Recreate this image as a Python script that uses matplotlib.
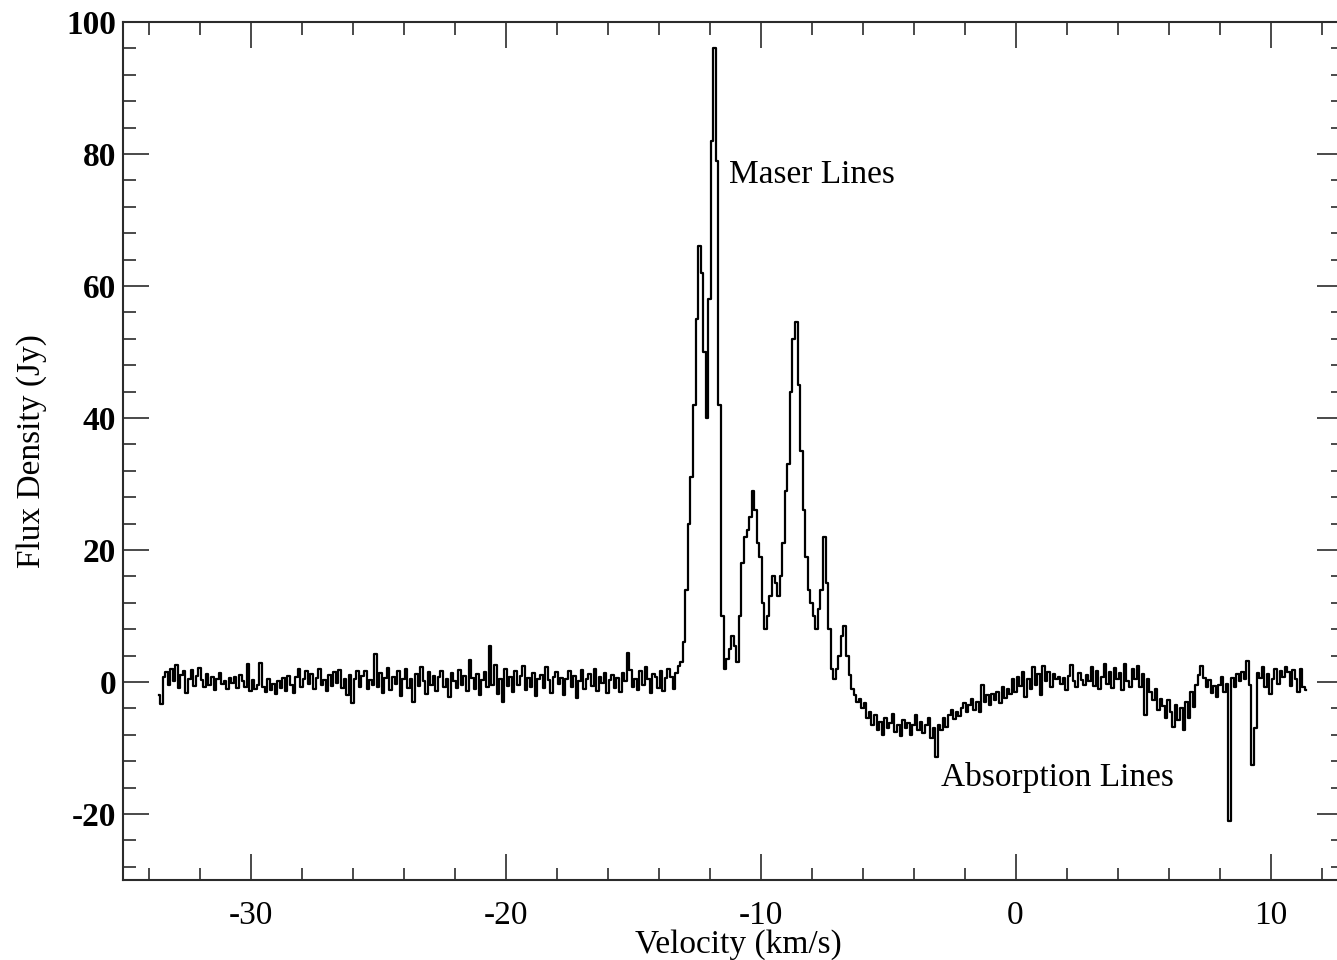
import numpy as np
import matplotlib
matplotlib.use("Agg")
import matplotlib.pyplot as plt
from matplotlib.ticker import MultipleLocator

plt.rcParams['font.family'] = ['Liberation Serif', 'DejaVu Serif']
plt.rcParams['axes.unicode_minus'] = False

# spectrum channels: 0.1 km/s from -33.6 to 11.4
V_START = -33.6
V_STEP = 0.1

# quiet baseline, -33.6 .. -13.3
flux_baseline = [
    -2.0, -3.3, 0.8, 1.5, -0.5, 1.9, 0.2, 2.6, -0.9, 1.0,
    1.6, -1.7, 0.4, 1.8, -0.6, 0.9, 2.1, 0.3, -0.8, 1.2,
    -0.4, 0.7, -1.2, 0.5, 1.3, -0.3, 0.1, -1.0, 0.6, -0.2,
    0.8, -0.9, 1.1, 0.2, -0.7, 2.8, -1.4, 0.3, -1.1, -0.5,
    2.9, -0.8, -1.5, 0.4, -1.2, -0.3, -1.8, 0.2, -0.9, 0.6,
    -1.4, 0.9, -0.5, -1.6, 0.8, 1.9, -0.7, 0.4, 1.7, -0.3,
    1.2, -1.1, 0.6, 2.0, -0.4, 0.3, -1.3, 1.0, -0.6, 1.5,
    -0.2, 1.8, -0.9, 0.5, -2.0, 1.1, -3.2, 0.4, 1.6, -0.8,
    0.9, 1.7, -1.0, 0.3, -0.5, 4.2, -0.7, 1.4, -1.6, 0.6,
    2.1, -1.2, 0.8, -0.3, 1.6, -2.1, 0.5, 1.9, -0.9, 0.4,
    -3.0, 1.2, -0.6, 2.3, 0.1, -1.8, 1.5, -0.4, 0.9, -1.3,
    0.7, 1.6, -0.8, 0.4, -2.2, 1.3, 0.2, -0.9, 1.8, -0.5,
    0.9, -1.4, 3.4, 0.6, -1.1, 1.2, -2.0, 0.3, 1.5, -0.7,
    5.4, -0.5, 2.6, -1.8, 0.4, -3.0, 1.9, -0.6, 0.8, -1.5,
    1.7, -0.4, 0.9, 2.4, -1.2, 0.6, -0.8, 1.3, -2.1, 0.5,
    1.1, -0.9, 2.2, 0.3, -1.6, 0.8, 1.5, -0.3, 0.6, -1.9,
    0.4, 1.6, -0.7, 0.9, -2.4, 0.2, 1.8, -1.0, 0.5, 1.2,
    -0.6, 2.0, -1.3, 0.7, -0.2, 1.4, -1.7, 0.3, 1.1, -0.9,
    0.6, -1.5, 1.3, 0.2, 4.4, 1.8, -0.8, 0.5, -1.2, 1.6,
    -0.5, 2.3, 0.4, -1.6, 1.2, 0.8, -0.9, 1.7, -1.4, 0.6,
    1.9, 0.8, -1.1, 1.4,
]

# maser emission, -13.2 .. -6.2
flux_maser = [
    2.5, 3.0, 6.0, 14.0, 24.0, 31.0, 42.0, 55.0, 66.0, 62.0,
    50.0, 40.0, 58.0, 82.0, 96.0, 79.0, 42.0, 10.0, 2.0, 3.5,
    5.0, 7.0, 5.5, 3.0, 10.0, 18.0, 22.0, 23.0, 25.0, 29.0,
    26.0, 21.0, 19.0, 12.0, 8.0, 10.0, 13.0, 16.0, 15.0, 13.0,
    16.0, 21.0, 29.0, 33.0, 44.0, 52.0, 54.5, 45.0, 35.0, 26.0,
    19.0, 14.0, 12.0, 10.0, 8.0, 11.0, 14.0, 22.0, 15.0, 8.0,
    2.0, 0.5, 2.0, 4.0, 7.0, 8.5, 4.0, 1.0, -1.0, -2.0,
    -3.0,
]

# absorption trough and narrow absorption lines, -6.1 .. 11.4
flux_absorption = [
    -2.5, -4.0, -3.2, -5.5, -4.5, -6.5, -5.0, -7.2, -6.0, -8.0,
    -5.5, -7.0, -6.2, -4.8, -7.5, -6.5, -8.2, -5.8, -7.0, -6.2,
    -8.0, -6.5, -5.0, -7.2, -6.0, -7.8, -6.5, -5.5, -8.5, -7.0,
    -11.3, -6.5, -7.2, -5.5, -6.8, -5.0, -4.2, -5.6, -4.5, -5.2,
    -4.0, -3.2, -4.6, -3.5, -2.5, -4.2, -3.0, -4.5, -0.5, -3.0,
    -2.0, -3.5, -1.8, -2.8, -1.5, -3.2, -0.8, -2.4, -1.0, -1.8,
    0.5, -1.5, 0.8, -0.6, 1.5, -2.2, 0.5, -1.0, 2.3, -0.4,
    1.2, -2.0, 2.4, 0.2, 1.5, -0.8, 1.2, 0.4, 0.8, -0.3,
    0.6, -1.2, 0.9, 2.6, 0.1, -0.8, 1.4, 0.3, -0.5, 1.1,
    0.2, 2.3, -0.6, 1.7, -1.0, 0.8, 2.8, -0.3, 1.5, -0.9,
    2.1, 0.4, 1.3, -1.2, 2.7, 0.2, -0.7, 1.9, 0.5, 2.4,
    -0.8, 1.2, -5.0, 0.5, -1.5, -2.8, -1.0, -4.2, -2.5, -3.6,
    -5.5, -2.8, -4.5, -6.8, -3.5, -5.8, -4.0, -7.2, -3.0, -5.5,
    -1.5, -3.8, -0.5, 1.0, 2.4, 0.6, -0.8, 0.3, -1.6, -0.6,
    -2.2, -0.5, 0.8, -1.5, -0.3, -21.0, 0.6, -0.8, 1.2, 0.2,
    1.5, 0.4, 3.2, -0.5, -12.5, -7.0, 1.4, 0.6, 2.3, -0.8,
    1.2, -1.8, 0.5, 2.0, -0.3, 1.6, 0.8, 2.2, 1.5, -0.6,
    1.8, 0.4, -1.5, 1.9, -0.8, -1.2,
]

flux = np.array(flux_baseline + flux_maser + flux_absorption)
velocity = V_START + V_STEP * np.arange(len(flux))

fig = plt.figure(figsize=(13.37, 9.6), dpi=100)
# right frame edge sits just past the canvas
ax = fig.add_axes([123 / 1337, 80 / 960, 1220 / 1337, 858 / 960])

ax.plot(velocity, flux, color='black', lw=1.6, drawstyle='steps-mid')

ax.set_xlim(-35, 12.84)
ax.set_ylim(-30, 100)

ax.xaxis.set_major_locator(MultipleLocator(10))
ax.xaxis.set_minor_locator(MultipleLocator(2))
ax.yaxis.set_major_locator(MultipleLocator(20))
ax.yaxis.set_minor_locator(MultipleLocator(4))

axis_col = '#2b2b2b'
for s in ax.spines.values():
    s.set_color(axis_col)
    s.set_linewidth(1.5)

ax.tick_params(which='both', direction='in', top=True, right=True,
               color=axis_col, width=1.2)
ax.tick_params(which='major', length=19)
ax.tick_params(which='minor', length=9)
ax.tick_params(axis='x', which='major', labelsize=24, pad=15)
ax.tick_params(axis='y', which='major', labelsize=24, pad=5)
for lab in ax.get_yticklabels():
    lab.set_fontweight('bold')

ax.set_xlabel('Velocity (km/s)', fontsize=24)
ax.set_ylabel('Flux Density (Jy)', fontsize=24)
ax.xaxis.set_label_coords(0.504, -0.057)
ax.yaxis.set_label_coords(-0.062, 0.5)

ax.text(-11.25, 76.8, 'Maser Lines', fontsize=24, ha='left', va='center')
ax.text(-2.94, -14.4, 'Absorption Lines', fontsize=24, ha='left', va='center')

fig.savefig('out.png', dpi=100)
